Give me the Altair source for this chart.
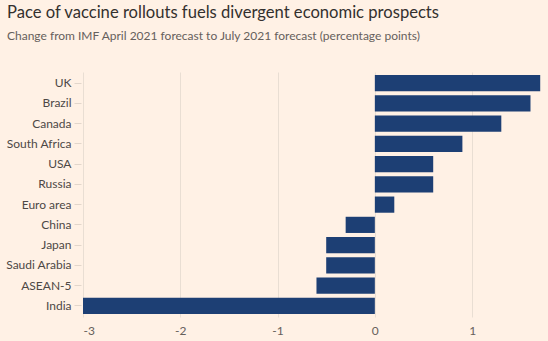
import altair as alt
import pandas as pd

countries = ["UK", "Brazil", "Canada", "South Africa", "USA", "Russia",
             "Euro area", "China", "Japan", "Saudi Arabia", "ASEAN-5", "India"]
changes = [1.7, 1.6, 1.3, 0.9, 0.6, 0.6, 0.2, -0.3, -0.5, -0.5, -0.6, -3.0]
x_ticks = [-3, -2, -1, 0, 1]

df = pd.DataFrame({"country": countries, "change": changes})

FONT = "Lato"
BG = "#FFF1E5"

chart = alt.Chart(df).mark_bar(color="#1D3F74").encode(
    x=alt.X("change:Q",
            scale=alt.Scale(domain=[-3, 1.78], nice=False, zero=False),
            axis=alt.Axis(values=x_ticks, title=None, domain=False, ticks=False,
                          grid=True, gridColor="#E9DED3", gridWidth=1,
                          labelColor="#66605C", labelFontSize=12, labelFont=FONT,
                          labelPadding=8, labelExpr="toString(datum.value)")),
    y=alt.Y("country:N", sort=countries,
            scale=alt.Scale(paddingInner=0.2, paddingOuter=0.15),
            axis=alt.Axis(title=None, domain=False, ticks=True, tickSize=7,
                          tickColor="#E2D6CB", offset=2, labelPadding=3,
                          labelColor="#4D4845", labelFontSize=12, labelFont=FONT,
                          grid=False)),
).properties(
    width=465,
    height=245,
    title=alt.TitleParams(
        text="Pace of vaccine rollouts fuels divergent economic prospects",
        subtitle="Change from IMF April 2021 forecast to July 2021 forecast (percentage points)",
        anchor="start", frame="group", dx=-76, offset=30,
        font=FONT, fontSize=16.6, fontWeight="normal", color="#33302E",
        subtitleFont=FONT, subtitleFontSize=12, subtitleColor="#66605C",
        subtitlePadding=9,
    ),
    autosize=alt.AutoSizeParams(type="none"),
    padding={"left": 83, "top": 72, "right": 0, "bottom": 24},
    background=BG,
).configure_view(stroke=None, fill=BG)

chart.save("out.html", embed_options={"renderer": "svg", "actions": False})
